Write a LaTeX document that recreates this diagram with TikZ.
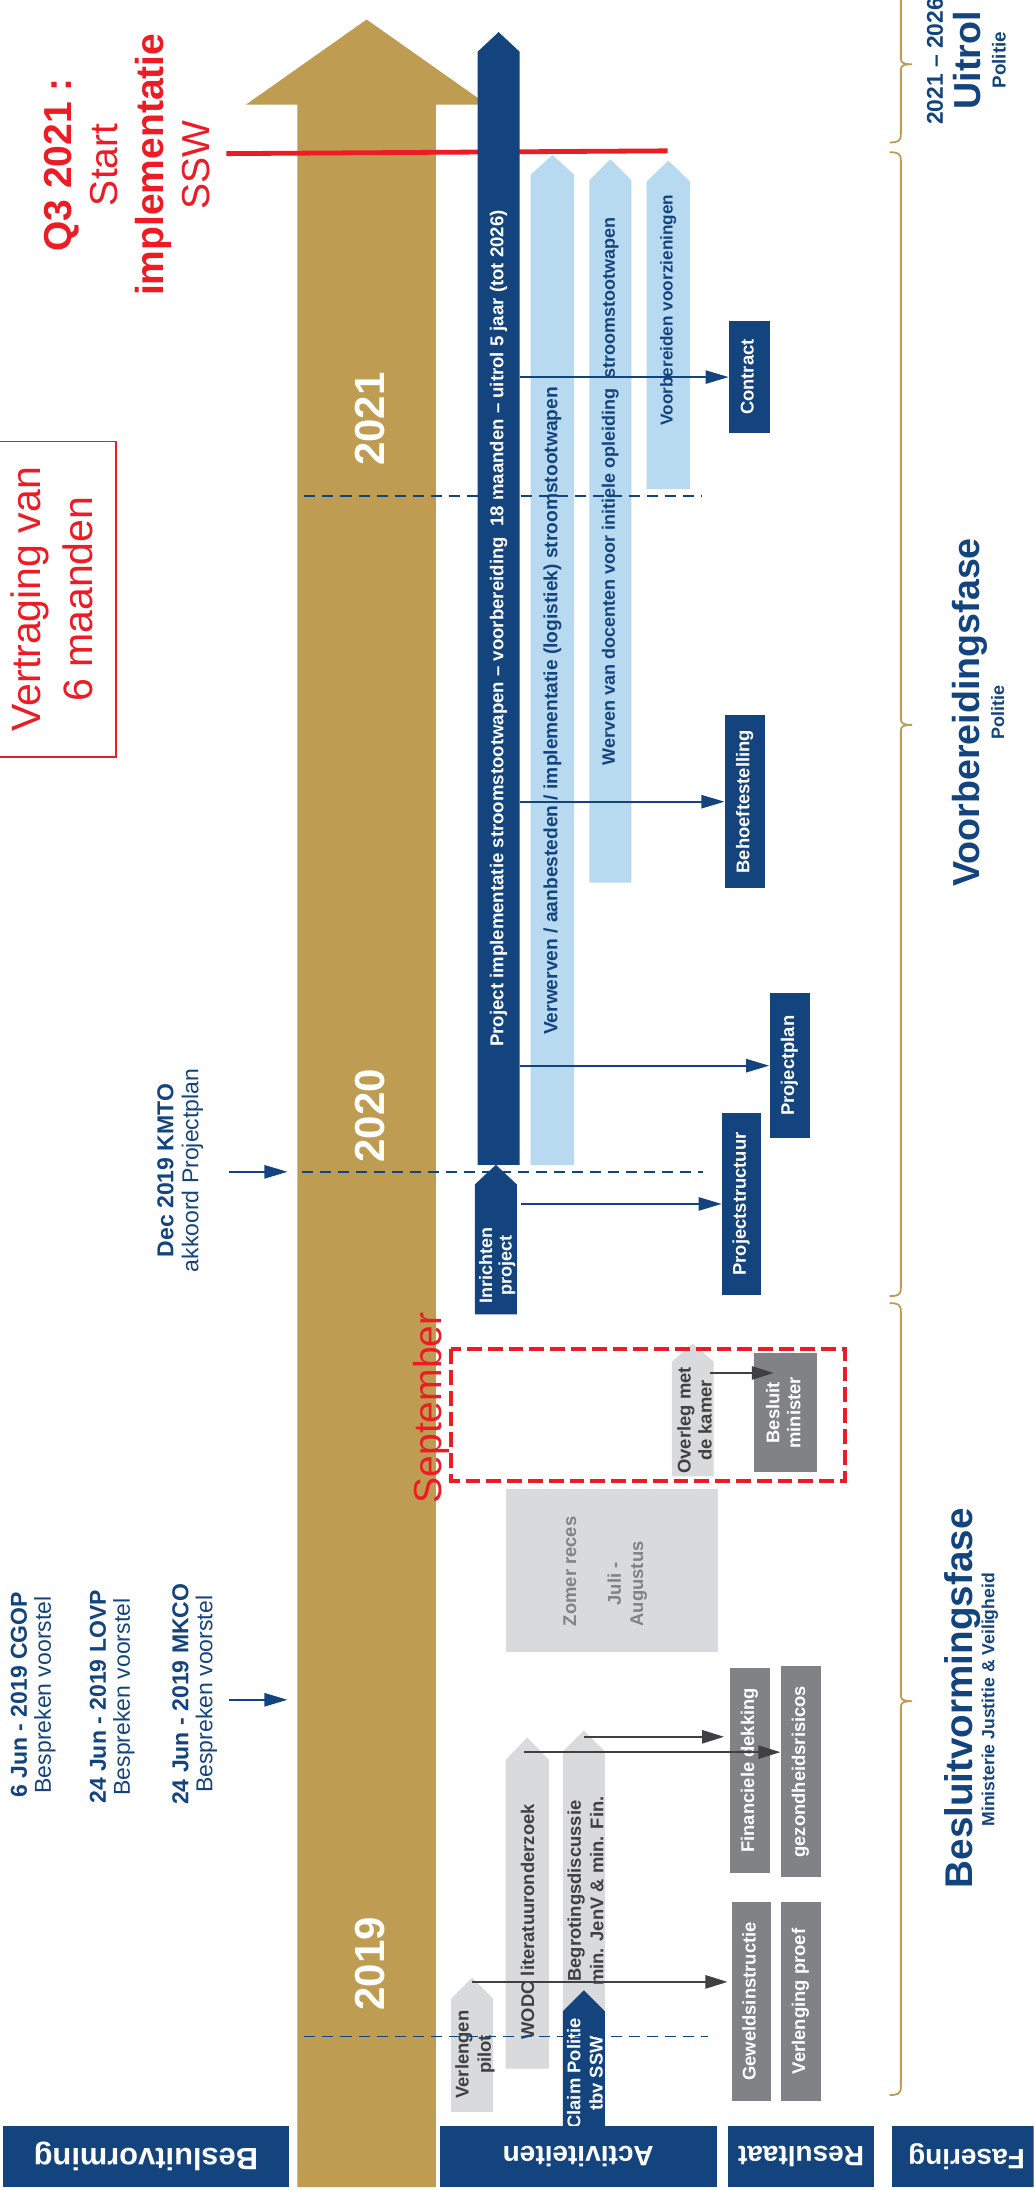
\documentclass[tikz,border=0pt]{standalone}
\usepackage{fontspec}
\setmainfont{Liberation Sans}
\usepackage{graphicx}
\usetikzlibrary{arrows.meta}
\definecolor{dblue}{RGB}{20,68,126}
\definecolor{lblue}{RGB}{183,218,241}
\definecolor{gold}{RGB}{190,157,82}
\definecolor{myred}{RGB}{237,28,36}
\definecolor{dgray}{RGB}{128,130,133}
\definecolor{lgray}{RGB}{217,218,220}
\definecolor{tgray}{RGB}{64,64,66}
\newcommand\rtb[1]{\rotatebox{90}{\begin{tabular}{@{}c@{}}#1\end{tabular}}}
% name, x1, x2, ytip, yshoulder, ybottom, fill
\newcommand\upbar[7]{%
  \fill[#7] (#2,#6) -- (#2,#5) -- ({(#2+#3)/2},#4) -- (#3,#5) -- (#3,#6) -- cycle;
  \coordinate (#1) at ({(#2+#3)/2},{(#5+#6)/2});}
% name, x1, y1, x2, y2, style, text
\newcommand\mybox[7]{%
  \node[#6, minimum width={(#4-#2)*0.698pt}, minimum height={(#5-#3)*0.698pt}] (#1) at ({(#2+#4)/2},{(#3+#5)/2}) {#7};}
% x, ytop, ytip, ybottom
\newcommand\phbrace[4]{%
  \draw[gold,line width=0.9pt] (#1-8,#4) .. controls (#1-2,#4) and (#1,#4-1) .. (#1,#4-6) -- (#1,#3+4) .. controls (#1,#3+1) and (#1+2,#3) .. (#1+8,#3) .. controls (#1+2,#3) and (#1,#3-1) .. (#1,#3-4) -- (#1,#2+6) .. controls (#1,#2+1) and (#1-2,#2) .. (#1-8,#2);}
\begin{document}
\begin{tikzpicture}[x=0.698pt,y=-0.698pt,
  rt/.style={rotate=90,align=center,inner sep=0pt},
  arrB/.style={draw=dblue,line width=0.9pt,-{Triangle[length=11.5pt,width=6.6pt]}},
  arrG/.style={draw=tgray,line width=1pt,-{Triangle[length=11pt,width=6.6pt]}},
  yrline/.style={draw=dblue,line width=0.8pt,dash pattern=on 5.5pt off 3.5pt},
  resB/.style={fill=dblue,text=white,inner sep=0pt,font=\bfseries\fontsize{9.2}{10.5}\selectfont},
  resG/.style={fill=dgray,text=white,inner sep=0pt,font=\bfseries\fontsize{9.2}{10.5}\selectfont},
  lab/.style={fill=dblue,text=white,inner sep=0pt,font=\bfseries\fontsize{14}{16}\selectfont},
  bartxt/.style={rt,font=\bfseries\fontsize{9.3}{10}\selectfont},
  lowtxt/.style={rt,anchor=base,text=tgray,font=\bfseries\fontsize{9.2}{11.2}\selectfont},
]
\useasboundingbox (0,0) rectangle (740,1568);
\clip (0,0) rectangle (740,1568);
\fill[white] (0,0) rectangle (740,1568);

% gold time arrow
\fill[gold] (213,1566) -- (213,75) -- (176,75) -- (262.5,14) -- (349,75) -- (312,75) -- (312,1566) -- cycle;
\coordinate (goldL) at (213,0);

% red start line
\coordinate (rl1) at (162,110);
\coordinate (rl2) at (478,108);
\draw[myred,line width=2.4pt] (rl1) -- (rl2);

% Q3 text (anchor base = baseline of last line)
\node[rt,anchor=base,text=myred,font=\fontsize{19.5}{23}\selectfont] (q3) at (150,118)
  {\textbf{Q3 2021 :}\\Start\\\textbf{implementatie}\\SSW};

% Vertraging box
\mybox{vert}{-3}{316}{83}{542}{draw=myred,line width=0.65pt,text=myred,inner sep=0pt,font=\fontsize{20.5}{25.8}\selectfont}{\rtb{Vertraging van\\6 maanden}}

% top right
\node[rt,anchor=base,text=dblue,font=\bfseries\fontsize{11.4}{13}\selectfont] (per) at (675,44) {2021 \textendash{} 2026};
\node[rt,anchor=base,text=dblue,font=\bfseries\fontsize{18.8}{20}\selectfont] (uitrol) at (702,43) {Uitrol};
\node[rt,anchor=base,text=dblue,font=\bfseries\fontsize{9.4}{10}\selectfont] (pol1) at (720,43) {Politie};

% braces
\phbrace{645}{-10}{46}{102}
\phbrace{645}{109}{519}{928}
\phbrace{645}{933}{1218}{1500}

% phase titles
\node[rt,anchor=base,text=dblue,font=\bfseries\fontsize{18.8}{20}\selectfont] (vbf) at (701,510) {Voorbereidingsfase};
\node[rt,anchor=base,text=dblue,font=\bfseries\fontsize{9}{10}\selectfont] (pol2) at (719,510) {Politie};
\node[rt,anchor=base,text=dblue,font=\bfseries\fontsize{19.3}{20}\selectfont] (bvf) at (696,1216) {Besluitvormingsfase};
\node[rt,anchor=base,text=dblue,font=\bfseries\fontsize{8.8}{10}\selectfont] (minjv) at (712,1217) {Ministerie Justitie \& Veiligheid};

% decision texts
\node[rt,anchor=base,text=dblue,font=\fontsize{11.5}{12}\selectfont] (d1t) at (36.5,1213.5) {\textbf{6 Jun - 2019 CGOP}\\Bespreken voorstel};
\node[rt,anchor=base,text=dblue,font=\fontsize{11.5}{12}\selectfont] (d2t) at (93,1215) {\textbf{24 Jun - 2019 LOVP}\\Bespreken voorstel};
\node[rt,anchor=base,text=dblue,font=\fontsize{11.5}{12}\selectfont] (d3t) at (152,1213) {\textbf{24 Jun - 2019 MKCO}\\Bespreken voorstel};
\node[rt,anchor=base,text=dblue,font=\fontsize{11.5}{12.5}\selectfont] (d4t) at (142,838) {\textbf{Dec 2019 KMTO}\\akkoord Projectplan};
\coordinate (da) at (164,1217);
\coordinate (db) at (164,839);
\draw[arrB,shorten >=5pt] (da) -- (da -| goldL);
\draw[arrB,shorten >=5pt] (db) -- (db -| goldL);

% years
\node[rt,text=white,font=\bfseries\fontsize{21}{22}\selectfont] (y2021) at (265,300) {2021};
\node[rt,text=white,font=\bfseries\fontsize{21}{22}\selectfont] (y2020) at (265,799) {2020};
\node[rt,text=white,font=\bfseries\fontsize{21}{22}\selectfont] (y2019) at (265,1406) {2019};

% activity bars (upper)
\upbar{pb}{342}{372}{23}{37}{834}{dblue}
\node[bartxt,text=white] (pbt) at (357,450) {Project implementatie stroomstootwapen \textendash{} voorbereiding\ \ 18 maanden \textendash{} uitrol 5 jaar (tot 2026)};
\upbar{b1}{380}{411}{111}{125}{834}{lblue}
\node[bartxt,text=dblue,font=\bfseries\fontsize{9.6}{10}\selectfont] (b1t) at (395.5,509) {Verwerven / aanbesteden / implementatie (logistiek) stroomstootwapen};
\upbar{b2}{422}{452}{114}{129}{632}{lblue}
\node[bartxt,text=dblue,font=\bfseries\fontsize{9}{10}\selectfont] (b2t) at (437,352) {Werven van docenten voor initiele opleiding\ \ stroomstootwapen};
\upbar{b3}{463}{494}{115}{130}{350}{lblue}
\node[bartxt,text=dblue,font=\bfseries\fontsize{8.6}{10}\selectfont] (b3t) at (478.5,222) {Voorbereiden voorzieningen};
\upbar{ip}{340}{370}{834}{848}{941}{dblue}
\node[rt,text=white,font=\bfseries\fontsize{9}{9.8}\selectfont] (ipt) at (356,906) {Inrichten\\project};

% results (upper)
\mybox{contract}{522}{230}{551}{310}{resB}{\rtb{Contract}}
\mybox{behoefte}{519}{512}{548}{636}{resB}{\rtb{Behoeftestelling}}
\mybox{projplan}{551}{711}{580}{815}{resB}{\rtb{Projectplan}}
\mybox{projstr}{517}{797}{545}{927}{resB}{\rtb{Projectstructuur}}
\coordinate (pbE) at (372,0);
\coordinate (ipE) at (373,0);
\draw[arrB] (pbE |- contract) -- (contract);
\draw[arrB] (pbE |- behoefte) -- (behoefte);
\draw[arrB] (pbE |- projplan) -- (projplan);
\draw[arrB] (ipE |- projstr) -- (projstr);

% lower region
\mybox{zomer}{362}{1066}{514}{1183}{fill=lgray,inner sep=0pt}{}
\node[rt,anchor=base,text=dgray,font=\bfseries\fontsize{9.2}{11.2}\selectfont] (zt1) at (412.5,1125) {Zomer reces};
\node[rt,anchor=base,text=dgray,font=\bfseries\fontsize{9.2}{11.2}\selectfont] (zt2) at (460.5,1134) {Juli -\\Augustus};

\upbar{ov}{481}{511}{962}{975}{1057}{lgray}
\node[lowtxt,font=\bfseries\fontsize{9.2}{10.5}\selectfont] (ovt) at (509.5,1017) {Overleg met\\de kamer};
\mybox{besl}{540}{969}{585}{1054}{resG}{\rtb{Besluit\\minister}}

\mybox{fin}{523}{1194}{551}{1341}{resG}{\rtb{Financiele dekking}}
\mybox{gez}{559}{1193}{588}{1344}{resG}{\rtb{gezondheidsrisicos}}
\mybox{gew}{524}{1362}{552}{1504}{resG}{\rtb{Geweldsinstructie}}
\mybox{verl}{559}{1362}{588}{1504}{resG}{\rtb{Verlenging proef}}

\upbar{vp}{323}{353}{1416}{1431}{1512}{lgray}
\node[lowtxt] (vpt) at (351.5,1471) {Verlengen\\pilot};
\upbar{wodc}{362}{393}{1244}{1260}{1481}{lgray}
\node[lowtxt] (wodct) at (382.5,1376) {WODC literatuuronderzoek};
\upbar{begr}{403}{433}{1239}{1254}{1480}{lgray}
\node[lowtxt] (begrt) at (432,1354) {Begrotingsdiscussie\\min. JenV \& min. Fin.};
\upbar{claim}{403}{433}{1425}{1440}{1526}{dblue}
\node[lowtxt,text=white] (claimt) at (431.5,1484.5) {Claim Politie\\tbv SSW};

\coordinate (begS) at (418,1243.5);
\coordinate (wodcS) at (375,1254.5);
\coordinate (vpS) at (338,1419);
\coordinate (ovS) at (508,983);
\draw[arrG,shorten >=3pt] (begS) -- (begS -| fin.west);
\draw[arrG] (wodcS) -- (wodcS -| gez.west);
\draw[arrG,shorten >=2pt] (vpS) -- (vpS -| gew.west);
\draw[arrG,shorten >=-10pt] (ovS) -- (ovS -| besl.west);

% September frame
\draw[myred,line width=2pt,dash pattern=on 7.4pt off 3pt] (323,966) rectangle (605,1060);
\node[rt,anchor=base,text=myred,font=\fontsize{19.5}{20}\selectfont] (sept) at (316,1008) {September};

% year separators
\coordinate (s21a) at (218,355); \coordinate (s21b) at (502,355);
\coordinate (s20a) at (216,839); \coordinate (s20b) at (503,839);
\coordinate (s19a) at (218,1458); \coordinate (s19b) at (507,1458);
\draw[yrline] (s21a) -- (s21b);
\draw[yrline] (s20a) -- (s20b);
\draw[yrline] (s19a) -- (s19b);

% row labels
\mybox{lbBes}{2}{1522}{207}{1566}{lab}{\rotatebox{180}{\fontsize{15.4}{16}\selectfont Besluitvorming}}
\mybox{lbAct}{315}{1522}{513}{1566}{lab}{\rotatebox{180}{Activiteiten}}
\mybox{lbRes}{521}{1522}{626}{1566}{lab}{\rotatebox{180}{Resultaat}}
\mybox{lbFas}{639}{1522}{745}{1566}{lab}{\rotatebox{180}{Fasering}}
\end{tikzpicture}
\end{document}
